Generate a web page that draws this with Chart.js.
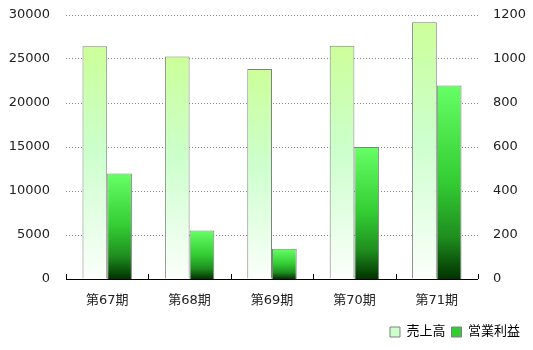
<!DOCTYPE html>
<html>
<head>
<meta charset="utf-8">
<script src="https://cdn.jsdelivr.net/npm/chart.js@4"></script>
<style>
  html, body { margin: 0; padding: 0; background: #fff; }
  #wrap { width: 533px; height: 350px; }
</style>
</head>
<body>
<div id="wrap"><canvas id="chart"></canvas></div>
<script>
const periods = ["第67期", "第68期", "第69期", "第70期", "第71期"];
const sales = [26450, 25270, 23850, 26500, 29180];
const profit = [479, 220, 137, 600, 880];
const salesTicks = [0, 5000, 10000, 15000, 20000, 25000, 30000];
const profitTicks = [0, 200, 400, 600, 800, 1000, 1200];

const FONT = "'DejaVu Sans', 'Noto Sans CJK JP', sans-serif";

function barGradient(stops) {
  return function (ctx) {
    const chart = ctx.chart;
    if (!chart.chartArea || ctx.type !== "data") return stops[0][1];
    const scale = chart.scales[ctx.dataset.yAxisID];
    const top = scale.getPixelForValue(ctx.raw);
    const bottom = scale.getPixelForValue(0);
    const g = chart.ctx.createLinearGradient(0, top, 0, bottom);
    stops.forEach(s => g.addColorStop(s[0], s[1]));
    return g;
  };
}

const salesStops = [[0, "#ccff99"], [0.45, "#ccffcc"], [1, "#fbfffb"]];
const profitStops = [[0, "#66ff66"], [0.5, "#33cc33"], [0.78, "#1f8f1f"], [1, "#003300"]];

// small upward ticks on the baseline at category boundaries
const baseTicks = {
  id: "baseTicks",
  afterDraw(chart) {
    const x = chart.scales.x;
    const y = Math.round(chart.scales.y.getPixelForValue(0));
    const c = chart.ctx;
    const step = x.width / periods.length;
    c.save();
    c.strokeStyle = "#000";
    c.lineWidth = 1;
    c.beginPath();
    c.moveTo(x.left, y + 0.5);
    c.lineTo(x.right, y + 0.5);
    for (let i = 0; i <= periods.length; i++) {
      const px = Math.round(x.left + i * step) + 0.5;
      c.moveTo(px, y);
      c.lineTo(px, y - 5);
    }
    c.stroke();
    c.restore();
  }
};

new Chart(document.getElementById("chart"), {
  type: "bar",
  data: {
    labels: periods,
    datasets: [
      {
        label: "売上高",
        data: sales,
        yAxisID: "y",
        backgroundColor: barGradient(salesStops),
        borderColor: "#808080",
        borderWidth: 1
      },
      {
        label: "営業利益",
        data: profit,
        yAxisID: "y1",
        backgroundColor: barGradient(profitStops),
        borderColor: "#808080",
        borderWidth: 1
      }
    ]
  },
  options: {
    responsive: true,
    maintainAspectRatio: false,
    animation: false,
    layout: { padding: { left: 9, right: 7, top: 15, bottom: 1.5 } },
    datasets: { bar: { categoryPercentage: 0.6, barPercentage: 1 } },
    plugins: {
      tooltip: { enabled: false },
      legend: {
        position: "bottom",
        align: "end",
        labels: {
          font: { family: FONT, size: 13 },
          color: "#222",
          boxWidth: 10,
          boxHeight: 10,
          padding: 6,
          generateLabels: (chart) => [
            { text: "売上高", fillStyle: "#ccffcc", strokeStyle: "#808080", lineWidth: 1, datasetIndex: 0 },
            { text: "営業利益", fillStyle: "#33cc33", strokeStyle: "#808080", lineWidth: 1, datasetIndex: 1 }
          ]
        }
      }
    },
    scales: {
      x: {
        grid: { display: false, drawTicks: false },
        border: { display: false },
        ticks: { font: { family: FONT, size: 13 }, color: "#222", padding: 14 },
        afterFit: (s) => { s.height = 40.5; }
      },
      y: {
        position: "left",
        min: 0,
        max: 30000,
        afterBuildTicks: (s) => { s.ticks = salesTicks.map(v => ({ value: v })); },
        afterFit: (s) => { s.width = 57; s.paddingTop = 0; s.paddingBottom = 0; },
        grid: { color: "#888", drawTicks: false },
        border: { display: false, dash: [1, 2] },
        ticks: { font: { family: FONT, size: 13 }, color: "#222", padding: 16, callback: v => String(v) }
      },
      y1: {
        position: "right",
        min: 0,
        max: 1200,
        afterBuildTicks: (s) => { s.ticks = profitTicks.map(v => ({ value: v })); },
        afterFit: (s) => { s.width = 48; s.paddingTop = 0; s.paddingBottom = 0; },
        grid: { display: false, drawTicks: false },
        border: { display: false },
        ticks: { font: { family: FONT, size: 13 }, color: "#222", padding: 15, callback: v => String(v) }
      }
    }
  },
  plugins: [baseTicks]
});
</script>
</body>
</html>
